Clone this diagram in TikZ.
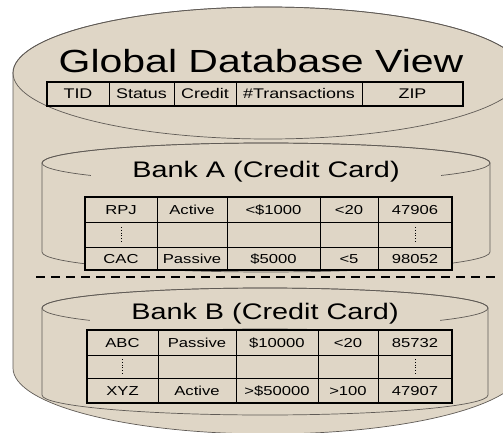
\documentclass[tikz,border=0pt]{standalone}
\usepackage{fontspec}
\setmainfont{Liberation Sans}[FakeStretch=1.28]
\usepackage{tikz}
\usepackage{xcolor}
\definecolor{dbfill}{RGB}{223,214,198}
\definecolor{dbline}{RGB}{95,90,85}

\begin{document}
\begin{tikzpicture}[x=1pt, y=-1pt,
    db/.style={fill=dbfill, draw=dbline, line width=0.7pt},
    rim/.style={draw=dbline, line width=0.7pt},
    grid/.style={draw=black, line width=0.8pt},
    frame/.style={draw=black, line width=1.7pt},
    cell/.style={font=\fontsize{13}{13}\selectfont, inner sep=0pt, text height=9.4pt, text depth=0pt},
    head/.style={font=\fontsize{14}{14}\selectfont, inner sep=0pt, text height=10pt, text depth=0pt},
    title/.style={fill=dbfill, inner sep=0pt, text height=16pt, text depth=4pt,
      font=\fontsize{22.5}{22.5}\selectfont, minimum width=350, minimum height=34}]

          % Variables
          \def \gx {268}
          \def \ax {266}
          \def \bx {265}

          % Page
          \clip (0,0) rectangle (503,433);
          \fill[white] (0,0) rectangle (503,433);

          % Global cylinder
          \path[db] (13,73) -- (13,368) arc (180:0:255 and 66) -- (523,73) arc (0:-180:255 and 66) -- cycle;
          \draw[rim] (\gx,73) ellipse (255 and 66);
          \node[inner sep=0pt, text height=23pt, text depth=0pt] (gtitle) at (261,61.5) {\fontsize{32}{32}\selectfont Global Database View};

          % Global table
          \draw[grid] (109,82) -- (109,106) (174,82) -- (174,106) (236,82) -- (236,106) (362,82) -- (362,106);
          \draw[frame] (47,82) rectangle (463,106);
          \node[head] (g1) at (78,94) {TID};
          \node[head] (g2) at (141.5,94) {Status};
          \node[head] (g3) at (205,94) {Credit};
          \node[head] (g4) at (299,94) {\#Transactions};
          \node[head] (g5) at (412.5,94) {ZIP};

          % Bank A cylinder
          \path[db] (42,163) -- (42,252) arc (180:0:224 and 20) -- (490,163) arc (0:-180:224 and 20) -- cycle;
          \draw[rim] (\ax,163) ellipse (224 and 20);
          \node[title] (atitle) at (\ax,171) {Bank A (Credit Card)};

          % Bank A table
          \fill[dbfill] (85,197) rectangle (452,270);
          \draw[grid] (85,222) -- (452,222) (85,247) -- (452,247);
          \draw[grid] (157,197) -- (157,270) (227,197) -- (227,270) (320,197) -- (320,270) (378,197) -- (378,270);
          \draw[frame] (85,197) rectangle (452,270);
          \node[cell] (a11) at (121,209.5) {RPJ};
          \node[cell] (a12) at (192,209.5) {Active};
          \node[cell] (a13) at (273.5,209.5) {<\$1000};
          \node[cell] (a14) at (349,209.5) {<20};
          \node[cell] (a15) at (415,209.5) {47906};
          \draw[dotted, line width=0.8pt] (121,227) -- (121,242) (415,227) -- (415,242);
          \node[cell] (a31) at (121,258.5) {CAC};
          \node[cell] (a32) at (192,258.5) {Passive};
          \node[cell] (a33) at (273.5,258.5) {\$5000};
          \node[cell] (a34) at (349,258.5) {<5};
          \node[cell] (a35) at (415,258.5) {98052};

          % Separator
          \draw[line width=2pt, dash pattern=on 9pt off 6pt] (36,277) -- (495,277);

          % Bank B cylinder
          \path[db] (42,308) -- (42,395) arc (180:0:223 and 20) -- (488,308) arc (0:-180:223 and 20) -- cycle;
          \draw[rim] (\bx,308) ellipse (223 and 20);
          \node[title, minimum height=30] (btitle) at (\bx,313) {Bank B (Credit Card)};

          % Bank B table
          \fill[dbfill] (87,330) rectangle (452,403);
          \draw[grid] (87,355) -- (452,355) (87,378) -- (452,378);
          \draw[grid] (158,330) -- (158,403) (236,330) -- (236,403) (318,330) -- (318,403) (378,330) -- (378,403);
          \draw[frame] (87,330) rectangle (452,403);
          \node[cell] (b11) at (122.5,342.5) {ABC};
          \node[cell] (b12) at (197,342.5) {Passive};
          \node[cell] (b13) at (277,342.5) {\$10000};
          \node[cell] (b14) at (348,342.5) {<20};
          \node[cell] (b15) at (415,342.5) {85732};
          \draw[dotted, line width=0.8pt] (122.5,359) -- (122.5,374) (415,359) -- (415,374);
          \node[cell] (b31) at (122.5,390.5) {XYZ};
          \node[cell] (b32) at (197,390.5) {Active};
          \node[cell] (b33) at (277,390.5) {>\$50000};
          \node[cell] (b34) at (348,390.5) {>100};
          \node[cell] (b35) at (415,390.5) {47907};

        \end{tikzpicture}
\end{document}
